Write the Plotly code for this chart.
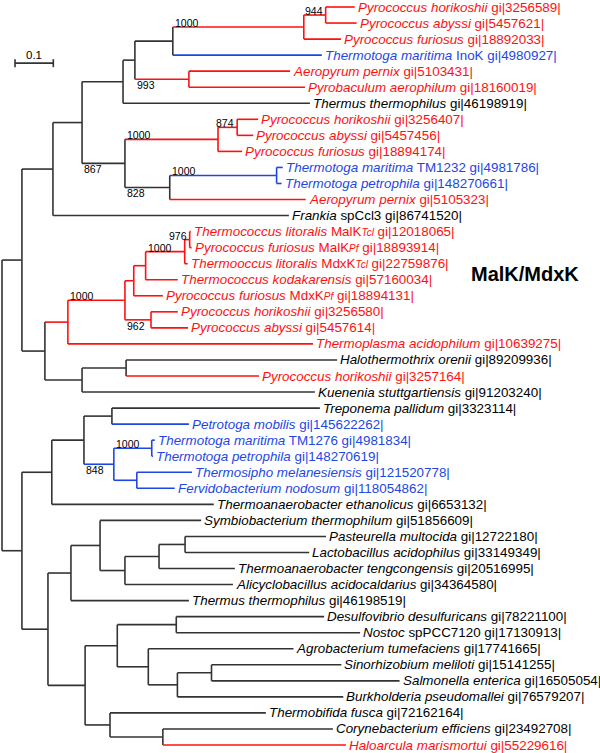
import plotly.graph_objects as go

# ---------------- data ----------------
SCALE_LEN = 0.1
SCALE_LABEL = "0.1"
CLADE_TITLE = "MalK/MdxK"

# internal nodes: id, parent, branch length (subst./site), colour group, bootstrap
node_ids = ["root", "A", "B", "C", "D", "E", "F", "G", "H", "I", "J", "K", "L", "M", "N", "O",
            "P", "Q", "S", "T", "U", "V", "W", "X", "Y",
            "Z", "AA", "AB", "AC", "AD", "AE", "AF", "AG", "AH", "AI", "AJ", "AK", "AL", "AM",
            "AN", "AO", "AP", "AQ", "AR", "AS", "AT"]
node_parent = [None, "root", "A", "A", "B", "D", "D", "E", "G", "G", "H", "J", "F", "F", "L", "M",
               "C", "C", "P", "S", "S", "T", "V", "W", "Q",
               "root", "Z", "Z", "AA", "AC", "AC", "AE", "AE", "AB", "AB", "AH", "AJ", "AK", "AL",
               "AI", "AI", "AN", "AN", "AQ", "AR", "AO"]
node_len = [0.0, 0.052, 0.081, 0.060, 0.076, 0.107, 0.112, 0.031, 0.099, 0.141, 0.342, 0.057, 0.243, 0.117, 0.050, 0.279,
            0.060, 0.097, 0.149, 0.023, 0.068, 0.031, 0.102, 0.013, 0.115,
            0.052, 0.078, 0.068, 0.084, 0.073, 0.078, 0.099, 0.060, 0.060, 0.097, 0.076, 0.065, 0.089, 0.068,
            0.084, 0.065, 0.154, 0.081, 0.076, 0.089, 0.138]
node_group = ["k", "k", "k", "k", "k", "k", "k", "k", "k", "r", "r", "r", "r", "k", "r", "b",
              "r", "k", "r", "r", "r", "r", "r", "r", "k",
              "k", "k", "k", "k", "k", "b", "b", "b", "k", "k", "k", "k", "k", "k",
              "k", "k", "k", "k", "k", "k", "k"]
node_support = ["", "", "", "", "", "", "867", "", "", "993", "1000", "944", "1000", "828", "874", "1000",
                "", "", "1000", "", "962", "", "1000", "976", "",
                "", "", "", "", "", "848", "1000", "", "", "", "", "", "", "",
                "", "", "", "", "", "", ""]

# leaves in display order (top to bottom)
leaf_labels = [
    "<i>Pyrococcus horikoshii</i> gi|3256589|",
    "<i>Pyrococcus abyssi</i> gi|5457621|",
    "<i>Pyrococcus furiosus</i> gi|18892033|",
    "<i>Thermotoga maritima</i> InoK gi|4980927|",
    "<i>Aeropyrum pernix</i> gi|5103431|",
    "<i>Pyrobaculum aerophilum</i> gi|18160019|",
    "<i>Thermus thermophilus</i> gi|46198919|",
    "<i>Pyrococcus horikoshii</i> gi|3256407|",
    "<i>Pyrococcus abyssi</i> gi|5457456|",
    "<i>Pyrococcus furiosus</i> gi|18894174|",
    "<i>Thermotoga maritima</i> TM1232 gi|4981786|",
    "<i>Thermotoga petrophila</i> gi|148270661|",
    "<i>Aeropyrum pernix</i> gi|5105323|",
    "<i>Frankia</i> spCcl3 gi|86741520|",
    "<i>Thermococcus litoralis</i> MalK<span style='font-size:10px'><i>Tcl</i></span> gi|12018065|",
    "<i>Pyrococcus furiosus</i> MalK<span style='font-size:10px'><i>Pf</i></span> gi|18893914|",
    "<i>Thermooccus litoralis</i> MdxK<span style='font-size:10px'><i>Tcl</i></span> gi|22759876|",
    "<i>Thermococcus kodakarensis</i> gi|57160034|",
    "<i>Pyrococcus furiosus</i> MdxK<span style='font-size:10px'><i>Pf</i></span> gi|18894131|",
    "<i>Pyrococcus horikoshii</i> gi|3256580|",
    "<i>Pyrococcus abyssi</i> gi|5457614|",
    "<i>Thermoplasma acidophilum</i> gi|10639275|",
    "<i>Halothermothrix orenii</i> gi|89209936|",
    "<i>Pyrococcus horikoshii</i> gi|3257164|",
    "<i>Kuenenia stuttgartiensis</i> gi|91203240|",
    "<i>Treponema pallidum</i> gi|3323114|",
    "<i>Petrotoga mobilis</i> gi|145622262|",
    "<i>Thermotoga maritima</i> TM1276 gi|4981834|",
    "<i>Thermotoga petrophila</i> gi|148270619|",
    "<i>Thermosipho melanesiensis</i> gi|121520778|",
    "<i>Fervidobacterium nodosum</i> gi|118054862|",
    "<i>Thermoanaerobacter ethanolicus</i> gi|6653132|",
    "<i>Symbiobacterium thermophilum</i> gi|51856609|",
    "<i>Pasteurella multocida</i> gi|12722180|",
    "<i>Lactobacillus acidophilus</i> gi|33149349|",
    "<i>Thermoanaerobacter tengcongensis</i> gi|20516995|",
    "<i>Alicyclobacillus acidocaldarius</i> gi|34364580|",
    "<i>Thermus thermophilus</i> gi|46198519|",
    "<i>Desulfovibrio desulfuricans</i> gi|78221100|",
    "<i>Nostoc</i> spPCC7120 gi|17130913|",
    "<i>Agrobacterium tumefaciens</i> gi|17741665|",
    "<i>Sinorhizobium meliloti</i> gi|15141255|",
    "<i>Salmonella enterica</i> gi|16505054|",
    "<i>Burkholderia pseudomallei</i> gi|76579207|",
    "<i>Thermobifida fusca</i> gi|72162164|",
    "<i>Corynebacterium efficiens</i> gi|23492708|",
    "<i>Haloarcula marismortui</i> gi|55229616|",
]
leaf_parent = ["K", "K", "J", "H", "I", "I", "E", "N", "N", "L", "O", "O", "M", "B",
               "X", "X", "W", "V", "T", "U", "U", "P", "Y", "Y", "Q",
               "AD", "AD", "AF", "AF", "AG", "AG", "AA",
               "AJ", "AM", "AM", "AL", "AK", "AH",
               "AP", "AP", "AQ", "AS", "AS", "AR", "AO", "AT", "AT"]
leaf_len = [0.076, 0.081, 0.097, 0.389, 0.264, 0.303, 0.488, 0.055, 0.042, 0.063, 0.016, 0.013, 0.355, 0.616,
            0.003, 0.005, 0.008, 0.084, 0.076, 0.070, 0.097, 0.640, 0.551, 0.347, 0.608,
            0.543, 0.201, 0.008, 0.003, 0.144, 0.099, 0.423,
            0.264, 0.368, 0.324, 0.198, 0.282, 0.308,
            0.386, 0.480, 0.379, 0.339, 0.491, 0.433, 0.407, 0.444, 0.478]
leaf_group = ["r", "r", "r", "b", "r", "r", "k", "r", "r", "r", "b", "b", "r", "k",
              "r", "r", "r", "r", "r", "r", "r", "r", "k", "r", "k",
              "k", "b", "b", "b", "b", "b", "k",
              "k", "k", "k", "k", "k", "k",
              "k", "k", "k", "k", "k", "k", "k", "k", "r"]

# ---------------- styling ----------------
LINE_COL = {"k": "#333333", "r": "#FF1010", "b": "#1E46E6"}
TEXT_COL = {"k": "#000000", "r": "#FF1010", "b": "#1E46E6"}
FONT = "Liberation Sans, Arial, sans-serif"
# bootstrap label placement: (above/below incoming branch, anchor at parent 'left' or node 'right')
support_place = {"F": ("below", "left"), "I": ("below", "left"), "J": ("above", "left"),
                 "K": ("above", "right"), "L": ("above", "left"), "M": ("below", "left"),
                 "N": ("above", "right"), "O": ("above", "left"), "S": ("above", "left"),
                 "U": ("below", "left"), "W": ("above", "left"), "X": ("above", "right"),
                 "AE": ("below", "left"), "AF": ("above", "left")}

# ---------------- tree layout ----------------
parent, length, group = {}, {}, {}
for nid, p, L, g in zip(node_ids, node_parent, node_len, node_group):
    parent[nid], length[nid], group[nid] = p, L, g
leaf_keys = [f"leaf{i}" for i in range(len(leaf_labels))]
for k, p, L, g in zip(leaf_keys, leaf_parent, leaf_len, leaf_group):
    parent[k], length[k], group[k] = p, L, g

children = {}
for k, p in parent.items():
    if p is not None:
        children.setdefault(p, []).append(k)

xpos = {}
def set_x(n, x):
    xpos[n] = x
    for c in children.get(n, []):
        set_x(c, x + length[c])
set_x("root", 0.0)

ypos = {k: i for i, k in enumerate(leaf_keys)}
def set_y(n):
    if n in ypos:
        return ypos[n]
    ys = [set_y(c) for c in children[n]]
    ypos[n] = (min(ys) + max(ys)) / 2
    return ypos[n]
set_y("root")

segs = {"k": ([], []), "r": ([], []), "b": ([], [])}
for k, p in parent.items():
    if p is None:
        continue
    xs, ys = segs[group[k]]
    xs += [xpos[p], xpos[k], None]
    ys += [ypos[k], ypos[k], None]
for n, ch in children.items():
    cy = [ypos[c] for c in ch]
    xs, ys = segs[group[n]]
    xs += [xpos[n], xpos[n], None]
    ys += [min(cy), max(cy), None]

fig = go.Figure()
for g in ["k", "b", "r"]:
    xs, ys = segs[g]
    fig.add_trace(go.Scatter(x=xs, y=ys, mode="lines", line=dict(color=LINE_COL[g], width=1.6),
                             hoverinfo="skip", showlegend=False))

# leaf labels
for k, lab in zip(leaf_keys, leaf_labels):
    fig.add_annotation(x=xpos[k], y=ypos[k], text=lab, showarrow=False, xanchor="left", yanchor="middle",
                       xshift=2, borderpad=0, font=dict(family=FONT, size=13.4, color=TEXT_COL[group[k]]))

# bootstrap labels
for nid, sup in zip(node_ids, node_support):
    if not sup:
        continue
    vert, horiz = support_place[nid]
    if horiz == "left":
        x, xanchor, xshift = xpos[parent[nid]], "left", 1
    else:
        x, xanchor, xshift = xpos[nid], "right", -2
    if vert == "above":
        yanchor, yshift = "bottom", -3
    else:
        yanchor, yshift = "top", 1
    fig.add_annotation(x=x, y=ypos[nid], text=sup, showarrow=False, xanchor=xanchor, yanchor=yanchor,
                       xshift=xshift, yshift=yshift, borderpad=0,
                       font=dict(family=FONT, size=10.5, color="#000000"))

# scale bar
sb_x0 = 0.034
sb_y = 3.5
fig.add_trace(go.Scatter(x=[sb_x0, sb_x0 + SCALE_LEN, None, sb_x0, sb_x0, None, sb_x0 + SCALE_LEN, sb_x0 + SCALE_LEN],
                         y=[sb_y, sb_y, None, sb_y - 0.25, sb_y + 0.25, None, sb_y - 0.25, sb_y + 0.25],
                         mode="lines", line=dict(color="#333333", width=1.6), hoverinfo="skip", showlegend=False))
fig.add_annotation(x=sb_x0 + SCALE_LEN / 2, y=sb_y, text=SCALE_LABEL, showarrow=False, xanchor="center",
                   yanchor="bottom", yshift=1, borderpad=0, font=dict(family=FONT, size=11.5, color="#000000"))

# clade title
fig.add_annotation(x=470 / 600, y=1 - 274 / 753, xref="paper", yref="paper", text=f"<b>{CLADE_TITLE}</b>",
                   showarrow=False, xanchor="left", yanchor="middle", borderpad=0,
                   font=dict(family=FONT, size=20, color="#000000"))

row_px = (745 - 7) / 46
fig.update_layout(width=600, height=753, margin=dict(l=0, r=0, t=0, b=0),
                  plot_bgcolor="white", paper_bgcolor="white",
                  xaxis=dict(range=[-2 / 383, 598 / 383], visible=False, fixedrange=True),
                  yaxis=dict(range=[(753 - 7) / row_px, -7 / row_px], visible=False, fixedrange=True))
fig.write_html("out.html", config={"displayModeBar": False},
               post_script="document.body.style.margin='0px';document.body.style.overflow='hidden';")
